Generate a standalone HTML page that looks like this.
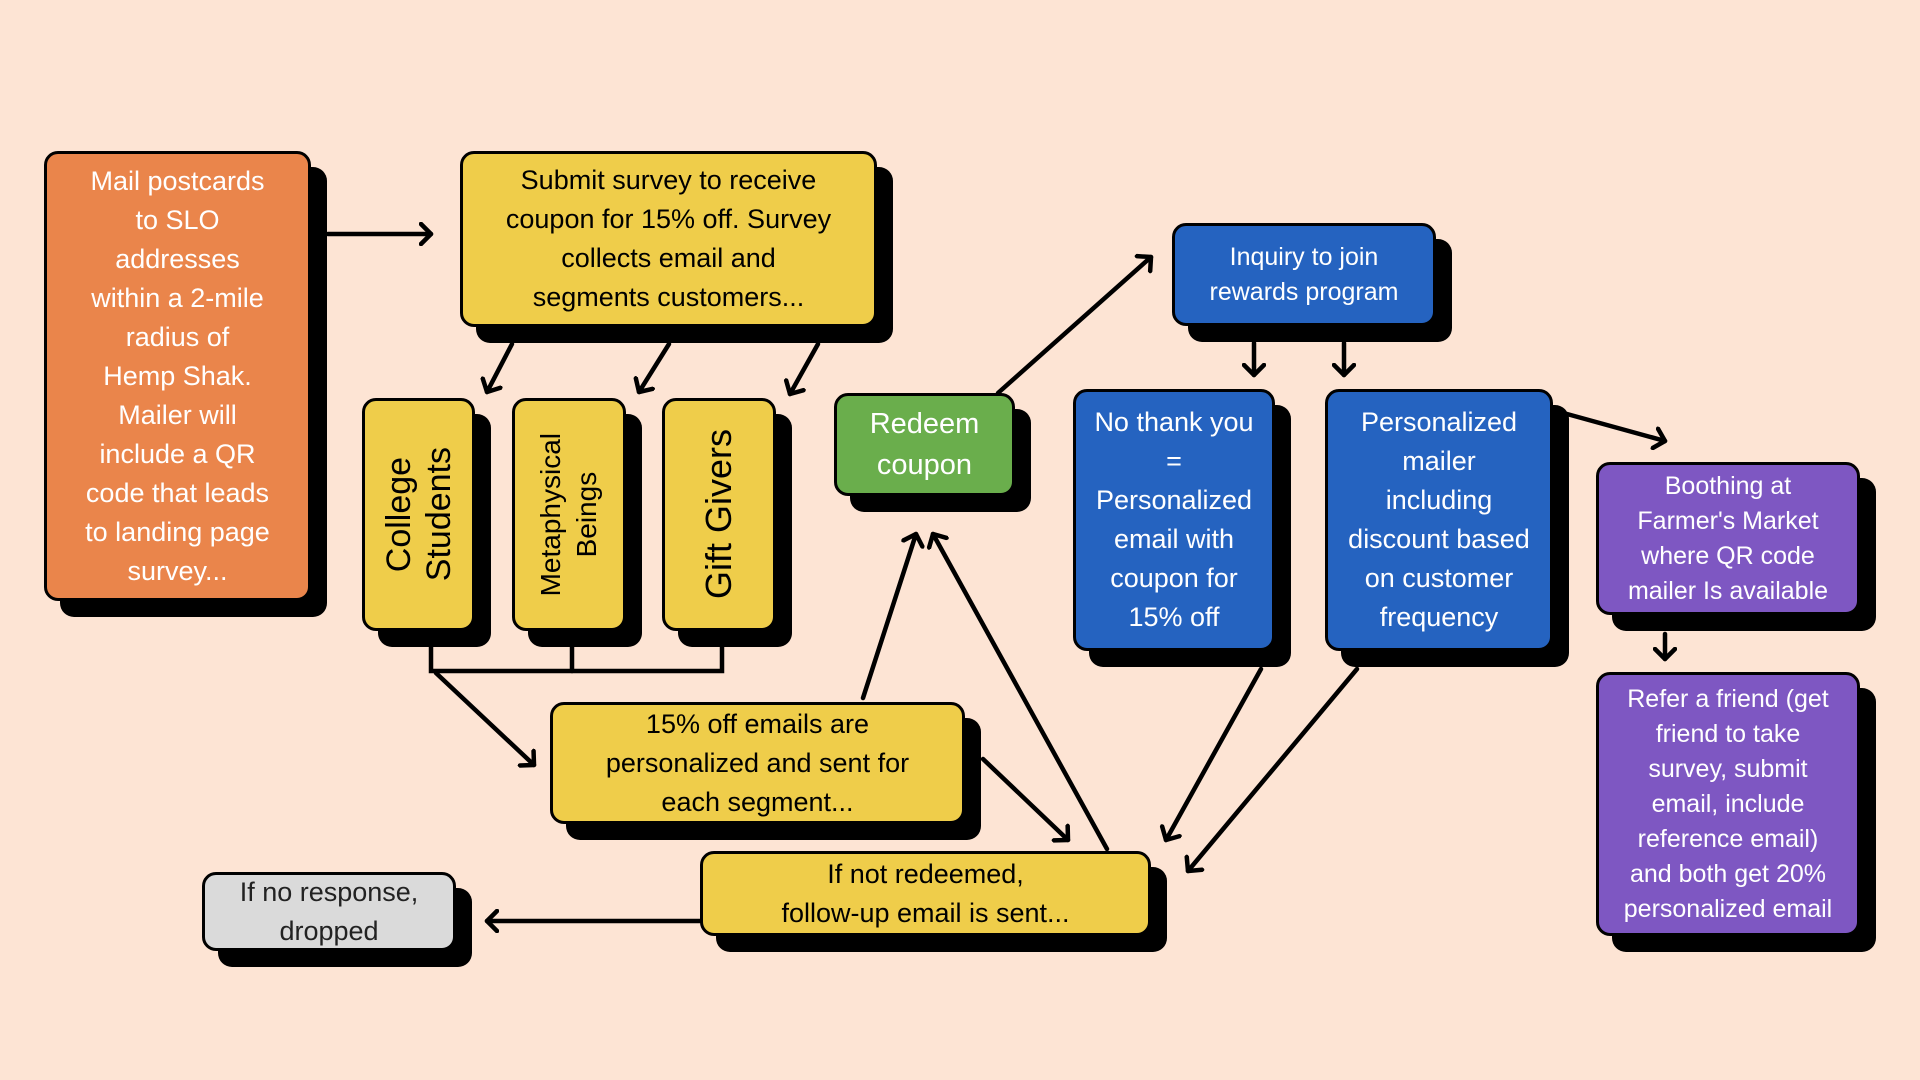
<!DOCTYPE html>
<html><head><meta charset="utf-8"><style>
html,body{margin:0;padding:0}
body{width:1920px;height:1080px;background:#fde4d4;position:relative;overflow:hidden;font-family:"Liberation Sans",sans-serif}
.b{position:absolute;box-sizing:border-box;border:3px solid #000;border-radius:14px;box-shadow:16px 16px 0 #000;display:flex;align-items:center;justify-content:center;text-align:center;font-size:27px;line-height:39px;color:#fff}
.o{background:#ea854b}.y{background:#efcd4a;color:#000}.g{background:#6aae4c}.bl{background:#2563c0}.p{background:#7e57c2}.gr{background:#dadada;color:#222}
.v{writing-mode:vertical-rl;transform:rotate(180deg);font-size:34px;line-height:40px}
svg{position:absolute;left:0;top:0}
</style></head><body>
<svg width="1920" height="1080">
<defs><marker id="a" markerWidth="24" markerHeight="24" refX="12" refY="12" orient="auto" markerUnits="userSpaceOnUse"><path d="M2,2 L12,12 L2,22" fill="none" stroke="#000" stroke-width="4.5" stroke-linecap="round" stroke-linejoin="round"/></marker></defs>
<g stroke="#000" stroke-width="4.5" fill="none" stroke-linecap="round">
<line x1="328" y1="234" x2="431" y2="234" marker-end="url(#a)"/>
<line x1="512" y1="344" x2="487" y2="392" marker-end="url(#a)"/>
<line x1="669" y1="344" x2="639" y2="392" marker-end="url(#a)"/>
<line x1="818" y1="344" x2="790" y2="394" marker-end="url(#a)"/>
<polyline points="431,631 431,671 722,671 722,631"/>
<line x1="572" y1="631" x2="572" y2="671"/>
<line x1="436" y1="673" x2="534" y2="765" marker-end="url(#a)"/>
<line x1="863" y1="698" x2="916" y2="534" marker-end="url(#a)"/>
<line x1="1107" y1="849" x2="933" y2="534" marker-end="url(#a)"/>
<line x1="983" y1="759" x2="1068" y2="840" marker-end="url(#a)"/>
<line x1="998" y1="393" x2="1151" y2="257" marker-end="url(#a)"/>
<line x1="1254" y1="343" x2="1254" y2="375" marker-end="url(#a)"/>
<line x1="1344" y1="343" x2="1344" y2="375" marker-end="url(#a)"/>
<line x1="1261" y1="669" x2="1166" y2="840" marker-end="url(#a)"/>
<line x1="1357" y1="669" x2="1188" y2="871" marker-end="url(#a)"/>
<line x1="1567" y1="414" x2="1665" y2="441" marker-end="url(#a)"/>
<line x1="1665" y1="634" x2="1665" y2="659" marker-end="url(#a)"/>
<line x1="700" y1="921" x2="487" y2="921" marker-end="url(#a)"/>
</g></svg>
<div class="b o" style="left:44px;top:151px;width:267px;height:450px">Mail postcards<br>to SLO<br>addresses<br>within a 2-mile<br>radius of<br>Hemp Shak.<br>Mailer will<br>include a QR<br>code that leads<br>to landing page<br>survey...</div>
<div class="b y" style="left:460px;top:151px;width:417px;height:176px">Submit survey to receive<br>coupon for 15% off. Survey<br>collects email and<br>segments customers...</div>
<div class="b y" style="left:362px;top:398px;width:113px;height:233px"><div class="v">College<br>Students</div></div>
<div class="b y" style="left:512px;top:398px;width:114px;height:233px"><div class="v" style="font-size:28px;line-height:36px">Metaphysical<br>Beings</div></div>
<div class="b y" style="left:662px;top:398px;width:114px;height:233px"><div class="v" style="font-size:36px">Gift Givers</div></div>
<div class="b g" style="left:834px;top:393px;width:181px;height:103px;font-size:29px;line-height:41px">Redeem<br>coupon</div>
<div class="b bl" style="left:1172px;top:223px;width:264px;height:103px;font-size:25px;line-height:35px">Inquiry to join<br>rewards program</div>
<div class="b bl" style="left:1073px;top:389px;width:202px;height:262px">No thank you<br>=<br>Personalized<br>email with<br>coupon for<br>15% off</div>
<div class="b bl" style="left:1325px;top:389px;width:228px;height:262px">Personalized<br>mailer<br>including<br>discount based<br>on customer<br>frequency</div>
<div class="b p" style="left:1596px;top:462px;width:264px;height:153px;font-size:25px;line-height:35px">Boothing at<br>Farmer's Market<br>where QR code<br>mailer Is available</div>
<div class="b p" style="left:1596px;top:672px;width:264px;height:264px;font-size:25px;line-height:35px">Refer a friend (get<br>friend to take<br>survey, submit<br>email, include<br>reference email)<br>and both get 20%<br>personalized email</div>
<div class="b y" style="left:550px;top:702px;width:415px;height:122px">15% off emails are<br>personalized and sent for<br>each segment...</div>
<div class="b y" style="left:700px;top:851px;width:451px;height:85px">If not redeemed,<br>follow-up email is sent...</div>
<div class="b gr" style="left:202px;top:872px;width:254px;height:79px">If no response,<br>dropped</div>
</body></html>
